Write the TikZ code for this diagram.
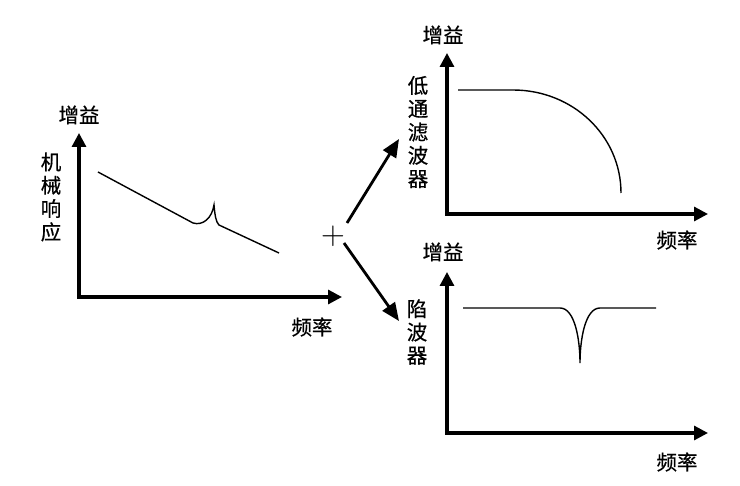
\RequirePackage{fix-cm}
\documentclass[tikz,border=0pt]{standalone}
\usepackage{fontspec}
\setmainfont{Noto Sans CJK SC}
\newfontfamily\cjklabel[FakeBold=0.6]{Noto Sans CJK SC}
\usepackage{tikz}
\usetikzlibrary{arrows.meta,positioning}

\tikzset{
  axis/.style={line width=3.2pt,{Triangle[length=14pt,width=14pt]}-{Triangle[length=14pt,width=14pt]}},
  feed/.style={line width=2.8pt,-{Triangle[length=18pt,width=15pt]}},
  resp/.style={line width=1.4pt},
  lbl/.style={font=\cjklabel\fontsize{20.5}{23.3}\selectfont,inner sep=0pt,align=center}
}

\begin{document}
\begin{tikzpicture}[x=1pt,y=-1pt]
    \useasboundingbox (0,0) rectangle (740,486);
    % mechanical response
    \coordinate (oA) at (79,297);
    \coordinate (yA) at (79,133);
    \coordinate (xA) at (342,297);
    \draw[axis] (yA) -- (oA) -- (xA);
    \node[lbl] (gainA) at (79,115) {增益};
    \node[lbl] (freqA) at (312,327) {频率};
    \node[lbl] (mech) at (51,197) {机\\械\\响\\应};
    \draw[resp] (98,172) -- (193,223) .. controls (203,226) and (212,218) .. (214,205)
        .. controls (215,216) and (216,222) .. (219,225) -- (279,253);
    % sum
    \node[inner sep=0pt,font=\fontsize{33}{33}\selectfont] (plus) at (333,236) {$+$};
    \coordinate (upStart) at (347,223);
    \coordinate (upTip) at (399,139);
    \coordinate (dnStart) at (344,243);
    \coordinate (dnTip) at (399,321);
    \draw[feed] (upStart) -- (upTip);
    \draw[feed] (dnStart) -- (dnTip);
    % low pass filter
    \coordinate (oB) at (447,214);
    \coordinate (yB) at (447,53);
    \coordinate (xB) at (708,214);
    \draw[axis] (yB) -- (oB) -- (xB);
    \node[lbl] (gainB) at (443,35) {增益};
    \node[lbl] (freqB) at (677,240) {频率};
    \node[lbl] (lpf) at (418,132) {低\\通\\滤\\波\\器};
    \draw[resp] (458,90) -- (513,90) .. controls (573,90) and (621,136) .. (621,193);
    % notch filter
    \coordinate (oC) at (447,433);
    \coordinate (yC) at (447,272);
    \coordinate (xC) at (708,433);
    \draw[axis] (yC) -- (oC) -- (xC);
    \node[lbl] (gainC) at (443,252) {增益};
    \node[lbl] (freqC) at (677,462) {频率};
    \node[lbl] (notch) at (417,332) {陷\\波\\器};
    \draw[resp] (463,308) -- (560,308) .. controls (575,308) and (580,340) .. (580,363)
        .. controls (580,340) and (585,308) .. (600,308) -- (656,308);
\end{tikzpicture}
\end{document}
